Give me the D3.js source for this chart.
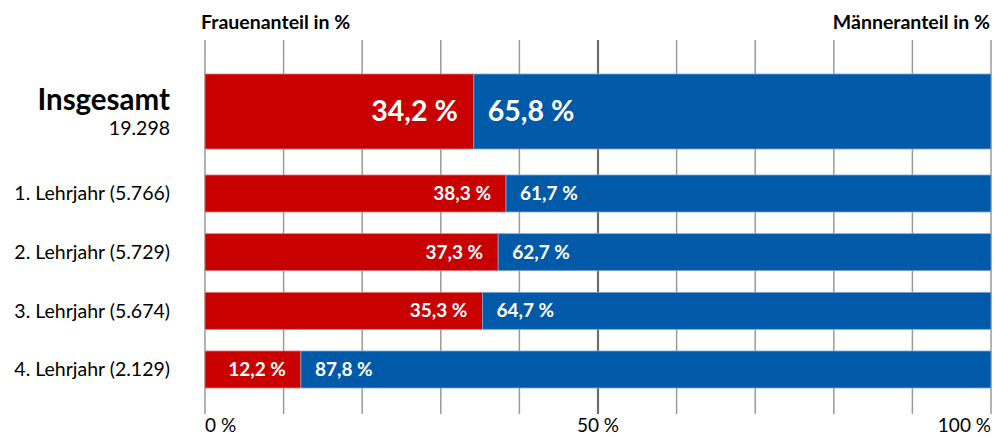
<!DOCTYPE html>
<html>
<head>
<meta charset="utf-8">
<script src="https://cdn.jsdelivr.net/npm/d3@7"></script>
<style>
  body { margin: 0; background: #fff; }
  text { font-family: Lato, "Open Sans", sans-serif; }
</style>
</head>
<body>
<div id="chart"></div>
<script>
const width = 994;
const height = 437;

// data
const totalLabel = "Insgesamt";
const totalCount = "19.298";
const totalFemale = 34.2;
const years = ["1. Lehrjahr (5.766)", "2. Lehrjahr (5.729)", "3. Lehrjahr (5.674)", "4. Lehrjahr (2.129)"];
const femaleShare = [38.3, 37.3, 35.3, 12.2];
const xTicks = [0, 10, 20, 30, 40, 50, 60, 70, 80, 90, 100];
const xTickLabels = {0: "0 %", 50: "50 %", 100: "100 %"};

const red = "#c80000";
const blue = "#005aa8";
const fmt = v => v.toFixed(1).replace(".", ",") + " %";

const svg = d3.select("#chart").append("svg")
    .attr("width", width)
    .attr("height", height);

const x = d3.scaleLinear().domain([0, 100]).range([205, 991]);

const y = d3.scalePoint()
    .domain(years)
    .range([193.5, 369.5]);
const rowH = 37;
const totalY = 111.5, totalH = 75;

// grid lines
svg.append("g")
    .selectAll("line")
    .data(xTicks)
    .join("line")
    .attr("x1", d => x(d)).attr("x2", d => x(d))
    .attr("y1", 40).attr("y2", 414)
    .attr("stroke", d => d === 50 ? "#6e6e6e" : "#9a9a9a")
    .attr("stroke-width", d => d === 50 ? 2.2 : 1.5);

// tick labels
svg.append("g")
    .selectAll("text")
    .data(xTicks.filter(d => xTickLabels[d]))
    .join("text")
    .attr("x", d => x(d))
    .attr("y", 432)
    .attr("text-anchor", d => d === 0 ? "start" : d === 100 ? "end" : "middle")
    .attr("font-size", 19)
    .attr("fill", "#000")
    .text(d => xTickLabels[d]);

// headers
svg.append("text")
    .attr("x", 201).attr("y", 29)
    .attr("font-size", 19.5).attr("font-weight", "bold")
    .text("Frauenanteil in %");
svg.append("text")
    .attr("x", 990).attr("y", 29)
    .attr("text-anchor", "end")
    .attr("font-size", 19.5).attr("font-weight", "bold")
    .text("Männeranteil in %");

function drawBar(g, cy, h, f, fontSize, padL, padR) {
    g.append("rect")
        .attr("x", x(0)).attr("y", cy - h / 2)
        .attr("width", x(f) - x(0)).attr("height", h)
        .attr("fill", red).attr("stroke", "#e07a7a").attr("stroke-width", 0.8);
    g.append("rect")
        .attr("x", x(f)).attr("y", cy - h / 2)
        .attr("width", x(100) - x(f)).attr("height", h)
        .attr("fill", blue).attr("stroke", "#7fa6cf").attr("stroke-width", 0.8);
    g.append("text")
        .attr("x", x(f) - padL).attr("y", cy)
        .attr("dy", "0.35em")
        .attr("text-anchor", "end")
        .attr("font-size", fontSize).attr("font-weight", "bold")
        .attr("fill", "#fff")
        .text(fmt(f));
    g.append("text")
        .attr("x", x(f) + padR).attr("y", cy)
        .attr("dy", "0.35em")
        .attr("font-size", fontSize).attr("font-weight", "bold")
        .attr("fill", "#fff")
        .text(fmt(100 - f));
}

const bars = svg.append("g");
drawBar(bars, totalY, totalH, totalFemale, 28.5, 16, 14);
years.forEach((yr, i) => drawBar(bars, y(yr), rowH, femaleShare[i], 19, 15, 14));

// row labels
svg.append("text")
    .attr("x", 170).attr("y", 110)
    .attr("text-anchor", "end")
    .attr("font-size", 29.5).attr("font-weight", "bold")
    .text(totalLabel);
svg.append("text")
    .attr("x", 170).attr("y", 135)
    .attr("text-anchor", "end")
    .attr("font-size", 19.5)
    .text(totalCount);

svg.append("g")
    .selectAll("text")
    .data(years)
    .join("text")
    .attr("x", 170)
    .attr("y", d => y(d))
    .attr("dy", "0.35em")
    .attr("text-anchor", "end")
    .attr("font-size", 19.5)
    .text(d => d);
</script>
</body>
</html>
